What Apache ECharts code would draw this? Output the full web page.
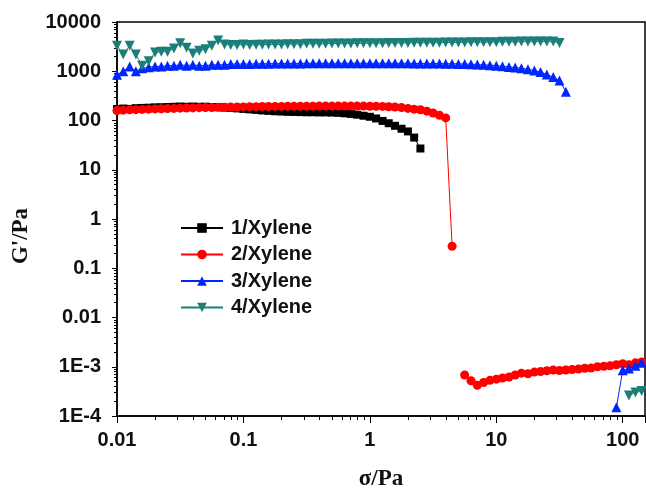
<!DOCTYPE html>
<html>
<head>
<meta charset="utf-8">
<script src="https://cdn.jsdelivr.net/npm/echarts@6.0.0/dist/echarts.min.js"></script>
<style>
html,body{margin:0;padding:0;background:#fff;}
#chart{width:646px;height:490px;}
</style>
</head>
<body>
<div id="chart"></div>
<script>
// Shear stress (Pa), log-spaced measurement points
const stress = [
  0.01, 0.0112, 0.0126, 0.0141, 0.0158, 0.0178, 0.02, 0.0224, 0.0251, 0.0282,
  0.0316, 0.0355, 0.0398, 0.0447, 0.0501, 0.0562, 0.0631, 0.0708, 0.0794, 0.0891,
  0.1, 0.112, 0.126, 0.141, 0.158, 0.178, 0.2, 0.224, 0.251, 0.282,
  0.316, 0.355, 0.398, 0.447, 0.501, 0.562, 0.631, 0.708, 0.794, 0.891,
  1, 1.12, 1.26, 1.41, 1.58, 1.78, 2, 2.24, 2.51, 2.82,
  3.16, 3.55, 3.98, 4.47, 5.01, 5.62, 6.31, 7.08, 7.94, 8.91,
  10, 11.2, 12.6, 14.1, 15.8, 17.8, 20, 22.4, 25.1, 28.2,
  31.6, 35.5, 39.8, 44.7, 50.1, 56.2, 63.1, 70.8, 79.4, 89.1,
  100, 112, 126, 141
];

const seriesNames = ['1/Xylene', '2/Xylene', '3/Xylene', '4/Xylene'];

// G' (Pa) for each sample, aligned with stress; null = no point
const g1 = [
  170, 175, 172, 178, 180, 182, 185, 186, 188, 190,
  192, 190, 192, 190, 191, 188, 186, 183, 180, 176,
  172, 168, 164, 160, 157, 154, 152, 150, 149, 148,
  147, 147, 146, 146, 145, 143, 140, 136, 131, 125,
  119, 110, 98, 88, 78, 68, 60, 45, 27
];
const g2 = [
  160, 162, 165, 166, 168, 170, 172, 173, 175, 176,
  178, 179, 180, 182, 183, 184, 185, 186, 187, 188,
  189, 190, 191, 192, 192, 193, 193, 194, 194, 195,
  195, 195, 196, 196, 196, 196, 196, 196, 196, 196,
  195, 194, 193, 190, 188, 183, 176, 170, 165, 155,
  142, 128, 113, 0.28, null, 6.8e-4, 5.2e-4, 4.2e-4, 4.8e-4, 5.3e-4,
  5.6e-4, 5.9e-4, 6.2e-4, 6.8e-4, 7.4e-4, 7.2e-4, 7.8e-4, 8.0e-4, 8.3e-4, 8.6e-4,
  8.4e-4, 8.6e-4, 8.8e-4, 9.0e-4, 9.3e-4, 9.4e-4, 1.0e-3, 1.02e-3, 1.05e-3, 1.1e-3,
  1.15e-3, 1.1e-3, 1.2e-3, 1.25e-3
];
const g3 = [
  850, 1000, 1250, 1000, 1150, 1200, 1250, 1250, 1300, 1300,
  1350, 1300, 1350, 1300, 1300, 1350, 1350, 1350, 1400, 1400,
  1400, 1400, 1420, 1420, 1420, 1430, 1430, 1440, 1440, 1440,
  1450, 1450, 1450, 1450, 1450, 1450, 1450, 1450, 1450, 1450,
  1450, 1450, 1450, 1450, 1450, 1450, 1450, 1440, 1440, 1440,
  1430, 1430, 1420, 1420, 1410, 1400, 1390, 1370, 1350, 1330,
  1300, 1260, 1220, 1190, 1150, 1100, 1030, 960, 860, 760,
  650, 385, null, null, null, null, null, null, null, 1.5e-4,
  8.5e-4, 9.2e-4, 1.05e-3, 1.2e-3
];
const g4 = [
  3300, 2200, 3300, 2200, 1300, 1600, 2400, 2500, 2500, 2900,
  3700, 3000, 2300, 2600, 2800, 3300, 4200, 3500, 3400, 3400,
  3500, 3400, 3450, 3450, 3500, 3500, 3500, 3550, 3550, 3550,
  3600, 3600, 3600, 3600, 3650, 3650, 3650, 3650, 3700, 3700,
  3700, 3700, 3700, 3750, 3750, 3750, 3750, 3800, 3800, 3800,
  3800, 3800, 3850, 3850, 3850, 3850, 3900, 3900, 3900, 3900,
  3900, 3950, 3950, 3950, 4000, 4000, 4000, 4000, 4000, 4000,
  3750, null, null, null, null, null, null, null, null, null,
  null, 2.6e-4, 3.0e-4, 3.2e-4
];

// Axis tick labels
const yTickValues = [1e-4, 1e-3, 0.01, 0.1, 1, 10, 100, 1000, 10000];
const yTickLabels = ['1E-4', '1E-3', '0.01', '0.1', '1', '10', '100', '1000', '10000'];
const xTickValues = [0.01, 0.1, 1, 10, 100];
const xTickLabels = ['0.01', '0.1', '1', '10', '100'];

const xMin = 0.01, xMax = 150, yMin = 1e-4, yMax = 1e4;

function pairs(ys) {
  return stress.map((s, i) => [s, (ys[i] === undefined || ys[i] === null) ? '-' : ys[i]]);
}
function labelFor(values, labels, v) {
  const lv = Math.log10(v);
  for (let i = 0; i < values.length; i++) {
    if (Math.abs(Math.log10(values[i]) - lv) < 1e-6) return labels[i];
  }
  return '';
}

const colors = ['#000000', '#ff0000', '#0026ff', '#1a7f78'];
const symbols = ['rect', 'circle', 'triangle', 'triangle'];
const symbolSizes = [8, 9, 10, 10];
const symbolRotates = [0, 0, 0, 180];
const dataSets = [g1, g2, g3, g4];

const lineSeries = seriesNames.map((name, k) => ({
  name: name,
  type: 'line',
  data: pairs(dataSets[k]),
  symbol: symbols[k],
  symbolSize: symbolSizes[k],
  symbolRotate: symbolRotates[k],
  showAllSymbol: true,
  connectNulls: false,
  color: colors[k],
  lineStyle: { width: 1, color: colors[k] },
  itemStyle: { color: colors[k] },
  emphasis: { disabled: true },
  z: 2 + k
}));

const chart = echarts.init(document.getElementById('chart'), null, { renderer: 'canvas' });
chart.setOption({
  animation: false,
  backgroundColor: '#fff',
  grid: { left: 117, right: 1, top: 22, bottom: 74, outerBoundsMode: 'none', show: true, borderColor: '#000', borderWidth: 1.5, backgroundColor: 'transparent' },
  legend: {
    data: seriesNames,
    orient: 'vertical',
    left: 180,
    top: 218,
    padding: 0,
    itemWidth: 42,
    itemHeight: 12,
    itemGap: 6.5,
    textStyle: { fontFamily: 'Liberation Sans', fontWeight: 'bold', fontSize: 20, color: '#111', lineHeight: 20, padding: [0, 0, 0, 3] }
  },
  xAxis: {
    type: 'log',
    logBase: 10,
    min: xMin,
    max: xMax,
    interval: 1,
    name: 'σ/Pa',
    nameLocation: 'middle',
    nameGap: 52,
    nameTextStyle: { fontFamily: 'Liberation Serif', fontWeight: 'bold', fontSize: 23, color: '#111' },
    axisLine: { show: true, lineStyle: { color: '#000', width: 1.5 } },
    axisTick: { show: true, inside: false, length: 7, lineStyle: { color: '#000', width: 1 } },
    minorTick: { show: true, splitNumber: 9, length: 4, lineStyle: { color: '#000', width: 1 } },
    axisLabel: {
      margin: 14,
      fontFamily: 'Liberation Sans', fontWeight: 'bold', fontSize: 20, color: '#111',
      formatter: v => labelFor(xTickValues, xTickLabels, v)
    },
    splitLine: { show: false },
    minorSplitLine: { show: false }
  },
  yAxis: {
    type: 'log',
    logBase: 10,
    min: yMin,
    max: yMax,
    interval: 1,
    name: "G'/Pa",
    nameLocation: 'middle',
    nameGap: 84,
    nameRotate: 90,
    nameTextStyle: { fontFamily: 'Liberation Serif', fontWeight: 'bold', fontSize: 23, color: '#111', padding: [0, 34, 0, 0] },
    axisLine: { show: true, lineStyle: { color: '#000', width: 1.5 } },
    axisTick: { show: true, inside: false, length: 5, lineStyle: { color: '#000', width: 1 } },
    minorTick: { show: true, splitNumber: 9, length: 3, lineStyle: { color: '#000', width: 1 } },
    axisLabel: {
      margin: 16,
      fontFamily: 'Liberation Sans', fontWeight: 'bold', fontSize: 20, color: '#111',
      formatter: v => labelFor(yTickValues, yTickLabels, v)
    },
    splitLine: { show: false },
    minorSplitLine: { show: false }
  },
  series: lineSeries
});
</script>
</body>
</html>
